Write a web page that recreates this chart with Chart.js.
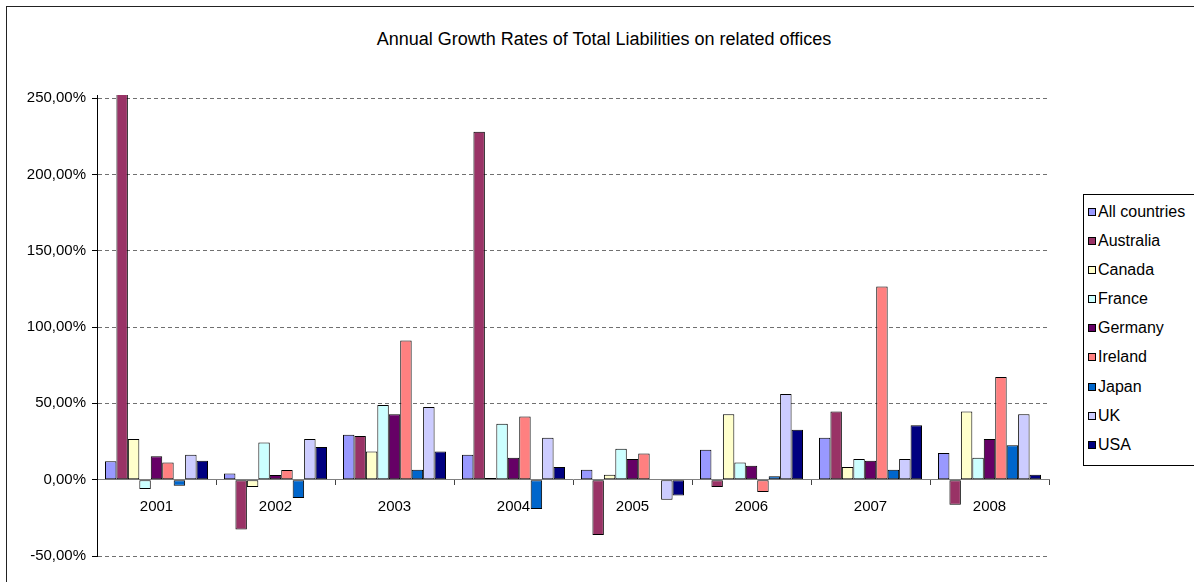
<!DOCTYPE html>
<html>
<head>
<meta charset="utf-8">
<script src="https://cdn.jsdelivr.net/npm/chart.js@4.4.1/dist/chart.umd.min.js"></script>
<style>
  html, body { margin: 0; padding: 0; background: #fff; overflow: hidden; }
  #wrap { position: relative; width: 1194px; height: 582px; font-family: "Liberation Sans", Arial, sans-serif; }
  #frame { position: absolute; left: 6px; top: 6px; width: 1200px; height: 600px; border: 1.5px solid #222; box-sizing: border-box; }
  #title { position: absolute; left: 0; width: 1208px; top: 28px; text-align: center; font-size: 18px; line-height: 22px; color: #000; }
  #chart { position: absolute; left: 0; top: 0; }
  #legend { position: absolute; left: 1083px; top: 194px; width: 130px; height: 272px; border: 1px solid #000; box-sizing: border-box; padding-top: 2px; background: #fff; }
  .item { height: 29.1px; line-height: 29.1px; font-size: 16px; color: #000; white-space: nowrap; position: relative; padding-left: 14px; }
  .sw { display: block; position: absolute; left: 4px; top: 11px; width: 8px; height: 8px; border: 1px solid #000; box-sizing: border-box; }
</style>
</head>
<body>
<div id="wrap">
  <div id="frame"></div>
  <div id="title">Annual Growth Rates of Total Liabilities on related offices</div>
  <canvas id="chart" width="1194" height="582"></canvas>
  <div id="legend"></div>
</div>
<script>
const years = ["2001", "2002", "2003", "2004", "2005", "2006", "2007", "2008"];
const seriesNames = ["All countries", "Australia", "Canada", "France", "Germany", "Ireland", "Japan", "UK", "USA"];
const seriesColors = ["#9999FF", "#993366", "#FFFFCC", "#CCFFFF", "#660066", "#FF8080", "#0066CC", "#CCCCFF", "#000080"];

const allCountries = [12.0, 4.1, 29.5, 16.4, 6.5, 19.6, 27.5, 17.5];
const australia    = [270.0, -32.7, 28.6, 228.0, -36.2, -4.8, 44.7, -16.4];
const canada       = [26.6, -4.8, 18.5, 1.1, 3.3, 42.8, 8.3, 44.7];
const france       = [-6.1, 24.4, 48.9, 36.6, 20.3, 11.3, 13.5, 14.4];
const germany      = [15.3, 3.1, 42.8, 14.4, 13.5, 9.2, 12.4, 26.6];
const ireland      = [11.3, 6.3, 91.2, 41.4, 17.2, -8.1, 126.5, 67.2];
const japan        = [-3.9, -12.0, 6.5, -19.2, 0.0, 2.2, 6.5, 22.5];
const uk           = [16.4, 26.6, 47.6, 27.5, -13.1, 56.1, 13.5, 42.8];
const usa          = [12.4, 21.4, 18.5, 8.3, -10.3, 32.7, 35.6, 3.3];

const yTicks = [-50, 0, 50, 100, 150, 200, 250];

const seriesValues = [allCountries, australia, canada, france, germany, ireland, japan, uk, usa];

const datasets = seriesNames.map((name, i) => ({
  label: name,
  data: seriesValues[i],
  backgroundColor: seriesColors[i],
  borderColor: "#000",
  borderWidth: 1,
  borderSkipped: false,
  categoryPercentage: 0.866,
  barPercentage: 1.0
}));

const fontFam = "'Liberation Sans', Arial, sans-serif";

new Chart(document.getElementById("chart"), {
  type: "bar",
  data: { labels: years, datasets: datasets },
  options: {
    responsive: false,
    devicePixelRatio: 1,
    animation: false,
    layout: { padding: { left: 0, right: 145, top: 95, bottom: 26 } },
    plugins: { legend: { display: false }, tooltip: { enabled: false }, title: { display: false } },
    scales: {
      x: {
        position: { y: 0 },
        offset: true,
        grid: { display: true, drawOnChartArea: false, drawTicks: true, offset: true, tickLength: 5, tickColor: "#444", color: "#444" },
        border: { display: true, color: "#808080", width: 1 },
        ticks: { color: "#000", font: { family: fontFam, size: 15 }, padding: 13, maxRotation: 0 }
      },
      y: {
        min: -50,
        max: 252,
        afterBuildTicks: (scale) => { scale.ticks = yTicks.map(v => ({ value: v })); },
        afterFit: (scale) => { scale.width = 97; },
        grid: { display: true, drawOnChartArea: true, drawTicks: true, tickLength: 5, color: "#707070", tickColor: "#000", lineWidth: 1 },
        border: { display: true, color: "#000", width: 1, dash: [4, 3] },
        ticks: {
          color: "#000",
          font: { family: fontFam, size: 15 },
          padding: 6,
          callback: (v) => v.toFixed(2).replace(".", ",") + "%"
        }
      }
    }
  }
});

const legend = document.getElementById("legend");
seriesNames.forEach((name, i) => {
  const d = document.createElement("div");
  d.className = "item";
  const s = document.createElement("span");
  s.className = "sw";
  s.style.background = seriesColors[i];
  d.appendChild(s);
  d.appendChild(document.createTextNode(name));
  legend.appendChild(d);
});
</script>
</body>
</html>
